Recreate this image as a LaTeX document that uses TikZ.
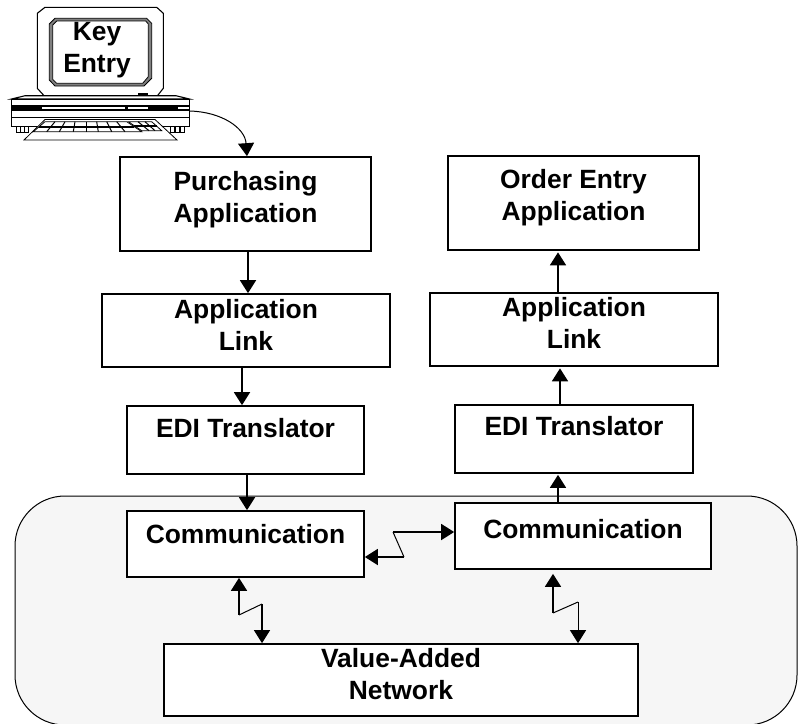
\documentclass[tikz,border=0pt]{standalone}
\usepackage{fontspec}
\setmainfont{Liberation Sans}
\usetikzlibrary{arrows.meta}
\definecolor{panelgray}{HTML}{F6F6F6}
\definecolor{ringgray}{HTML}{808080}
\tikzset{
	boxnode/.style={draw, fill=white, line width=1.7pt, inner sep=0pt, align=center, font=\fontsize{26.4}{32}\selectfont\bfseries},
	link/.style={->, >={Triangle[length=13pt,width=16pt]}, line width=1.7pt},
	backlink/.style={<-, >={Triangle[length=13pt,width=16pt]}, line width=1.7pt},
	zig/.style={line width=1pt},
	pcline/.style={draw, line width=0.8pt, fill=white},
}
\begin{document}
\begin{tikzpicture}[x=1pt,y=-1pt]
			\useasboundingbox (0,0) rectangle (799,723);
			\path[fill=panelgray, draw=black, line width=1pt, rounded corners=50pt] (15,496) rectangle (797,725);

			\draw[pcline, line width=1.1pt] (37.3,13.3) -- (45,7.3) -- (156.7,7.3) -- (163.3,13.3) -- (163.3,88.3) -- (156.7,96.7) -- (45,96.7) -- (37.3,88.3) -- cycle;
			\draw[line width=0.8pt, fill=ringgray] (49.3,24) -- (55,18.3) -- (146.7,18.3) -- (151.7,23.3) -- (151.7,78.3) -- (144,86) -- (55,86) -- (49.3,80) -- cycle;
			\draw[line width=0.8pt, fill=white] (52.7,25) -- (56.7,21) -- (145.7,21) -- (148.3,24) -- (148.3,76.7) -- (142.7,83.3) -- (56.7,83.3) -- (52.7,79.3) -- cycle;
			\draw[line width=1.3pt] (138.3,94) -- (147.7,94);
			\draw[pcline, line width=1.1pt] (11.7,99) -- (25,95.7) -- (176,95.7) -- (189.3,99) -- cycle;
			\foreach \xa in {16.7,20.6,24.5,170,175,180}
				\draw[pcline] (\xa,126.7) rectangle ++(4.2,5.6);
			\draw[pcline, line width=1.3pt] (11.7,99.5) rectangle (189.3,126.7);
			\fill (11.7,105) rectangle (189.3,110.5);
			\fill[white] (42,106.5) rectangle (125,108.5);
			\fill[white] (128,106.5) rectangle (148,108.5);
			\fill[white] (178,106.5) rectangle (188.5,108.5);
			\draw[line width=1.5pt] (11.7,117.7) -- (189.3,117.7);
			\draw[pcline] (24,140) -- (45,119.5) -- (155,119.5) -- (177,140) -- cycle;
			\draw[line width=0.8pt, fill=white] (45,121.7) -- (126.7,121.7) -- (141.7,131.7) -- (33.3,131.7) -- cycle;
			\draw[line width=1.2pt] (39,127) -- (134,127);
			\foreach \xa/\xb in {55/46.7,65/59.3,75/73.3,86/86,96.7/98.3,106.7/111.7,116.7/125}
				\draw[line width=1pt] (\xa,121.7) -- (\xb,131.7);
			\draw[line width=0.8pt, fill=white] (128.3,121.7) -- (151.7,121.7) -- (161.7,130.7) -- (141.7,130.7) -- cycle;
			\draw[line width=1.2pt] (134,126) -- (156.5,126);
			\draw[line width=1pt] (138,121.7) -- (149,130.7);
			\draw[line width=1pt] (145,121.7) -- (155,130.7);

			\node[boxnode, draw=none, fill=none, text depth=0pt] (keyentry) at (97,47.5) {Key\\Entry};

			\node[boxnode, minimum width=251pt, minimum height=94pt, text depth=14pt] (purchasing) at (245.5,204) {Purchasing\\Application};
			\node[boxnode, minimum width=288pt, minimum height=73pt, text depth=11pt] (linkl) at (246,330.5) {Application\\Link};
			\node[boxnode, minimum width=237pt, minimum height=68pt, text depth=25pt] (edil) at (245.5,440) {EDI Translator};
			\node[boxnode, minimum width=237pt, minimum height=66pt, text depth=21pt] (comml) at (245.5,544) {Communication};

			\node[boxnode, minimum width=251pt, minimum height=94pt, text depth=17pt] (order) at (573.5,203) {Order Entry\\Application};
			\node[boxnode, minimum width=288pt, minimum height=73pt, text depth=14pt] (linkr) at (574,329.5) {Application\\Link};
			\node[boxnode, minimum width=238pt, minimum height=68pt, text depth=26pt] (edir) at (574,439) {EDI Translator};
			\node[boxnode, minimum width=256pt, minimum height=66pt, text depth=15pt] (commr) at (583,536) {Communication};

			\node[boxnode, minimum width=474pt, minimum height=72pt, text depth=12pt] (value) at (401,680) {Value-Added\\Network};

			\coordinate (pcport) at (190,111);
			\coordinate (sideA) at (404,557);
			\coordinate (sideB) at (393,532);
			\coordinate (downA) at (239,615);
			\coordinate (downB) at (262,604);
			\coordinate (upA) at (553,613);
			\coordinate (upB) at (578,602);

			\draw[link, line width=1pt] (pcport) .. controls (222,112) and (245,128) .. (purchasing.north -| 247,0);
			\draw[link] (purchasing.south -| 248,0) -- (linkl.north -| 248,0);
			\draw[link] (linkl.south -| 242,0) -- (edil.north -| 242,0);
			\draw[link] (edil.south -| 247,0) -- (comml.north -| 247,0);

			\draw[backlink, shorten <=1.5pt] (order.south -| 558,0) -- (linkr.north -| 558,0);
			\draw[backlink, shorten <=1.5pt] (linkr.south -| 560,0) -- (edir.north -| 560,0);
			\draw[backlink, shorten <=1pt] (edir.south -| 558,0) -- (commr.north -| 558,0);

			\draw[backlink] (comml.east |- sideA) -- (sideA);
			\draw[zig] (sideA) -- (sideB);
			\draw[link] (sideB) -- (commr.west |- sideB);

			\draw[backlink] (comml.south -| downA) -- (downA);
			\draw[zig] (downA) -- (downB);
			\draw[link, line width=1.2pt] (downB) -- (value.north -| downB);

			\draw[backlink, shorten <=4pt] (commr.south -| upA) -- (upA);
			\draw[zig] (upA) -- (upB);
			\draw[link, line width=1pt] (upB) -- (value.north -| upB);
			\end{tikzpicture}
\end{document}
